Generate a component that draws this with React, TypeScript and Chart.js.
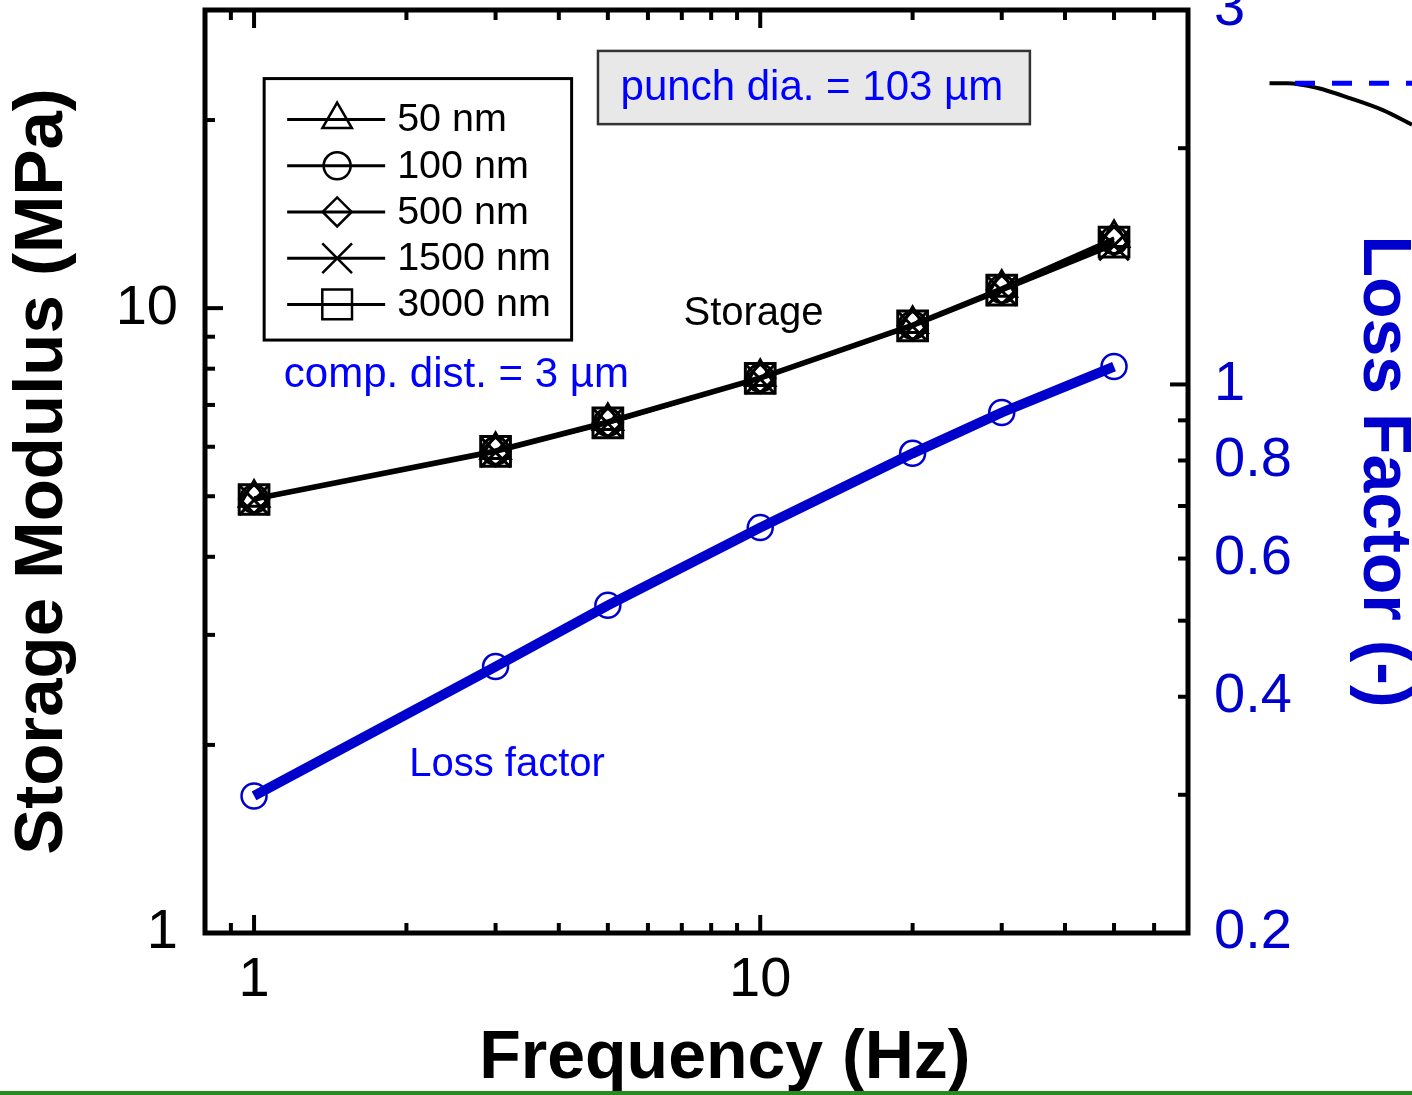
import React, { useEffect, useRef } from 'react';
import { Chart, registerables } from 'chart.js';
import { drawPoint } from 'chart.js/helpers';

Chart.register(...registerables);

const FONT = '"Liberation Sans", Arial, Helvetica, sans-serif';
const BLUE_AXIS = '#0000cc';
const BLUE_LINE = '#0000cc';
const BLUE_TEXT = '#0000ff';

// ---------- data ----------
const frequencyHz = [1, 3, 5, 10, 20, 30, 50];
const storage50nm = [4.97, 5.93, 6.6, 7.76, 9.43, 10.78, 12.95];
const storage100nm = [4.95, 5.91, 6.57, 7.73, 9.39, 10.72, 12.85];
const storage500nm = [4.95, 5.9, 6.56, 7.72, 9.38, 10.7, 12.8];
const storage1500nm = [4.93, 5.88, 6.54, 7.7, 9.35, 10.66, 12.6];
const storage3000nm = [4.94, 5.9, 6.55, 7.72, 9.37, 10.69, 12.75];
const lossFactor = [0.299, 0.437, 0.523, 0.657, 0.817, 0.921, 1.054];

const seriesLabels = ['50 nm', '100 nm', '500 nm', '1500 nm', '3000 nm'];
const seriesMarkers = ['triangle', 'circle', 'rectRot', 'crossRot', 'rect'];
const storageSeries = [storage50nm, storage100nm, storage500nm, storage1500nm, storage3000nm];

// tick labels and tick marks
const xTickLabels = [1, 10];
const yLeftTickLabels = [1, 10];
const yRightTickLabels = [0.2, 0.4, 0.6, 0.8, 1, 3];
const xMajorTicks = [1, 10];
const xMinorTicks = [0.9, 2, 3, 4, 5, 6, 7, 8, 9, 20, 30, 40, 50, 60];
const yLeftMajorTicks = [10];
const yLeftMinorTicks = [2, 3, 4, 5, 6, 7, 8, 9, 20];
const yRightMajorTicks = [1];
const yRightMinorTicks = [0.3, 0.4, 0.5, 0.6, 0.7, 0.8, 0.9, 2];

// fragment of the neighbouring panel (cut off at the right edge)
const fragmentX = [0.05, 0.17, 0.37, 0.59, 0.81, 1.0];
const fragmentCurve = [0.71, 0.71, 0.65, 0.52, 0.37, 0.19];
const fragmentRefX = [0.22, 1.0];
const fragmentRef = [0.71, 0.71];

// ---------- styles ----------
const markerRadii = [17, 13.5, 14.5, 21, 21];

const toPoints = (xs: number[], ys: number[]) => xs.map((x, i) => ({ x, y: ys[i] }));

const ticksPlugin = {
  id: 'frameTicks',
  afterDatasetsDraw(chart: any) {
    const { ctx, chartArea: a, scales } = chart;
    const MAJ = 18;
    const MIN = 10;
    ctx.save();
    ctx.strokeStyle = '#000';
    ctx.lineWidth = 4;
    ctx.lineCap = 'butt';
    const seg = (x1: number, y1: number, x2: number, y2: number) => {
      ctx.beginPath();
      ctx.moveTo(x1, y1);
      ctx.lineTo(x2, y2);
      ctx.stroke();
    };
    const xs = scales.x;
    const addX = (vals: number[], len: number) => {
      vals.forEach((v) => {
        const p = xs.getPixelForValue(v);
        seg(p, a.bottom, p, a.bottom - len);
        seg(p, a.top, p, a.top + len);
      });
    };
    addX(xMajorTicks, MAJ);
    addX(xMinorTicks, MIN);
    const yl = scales.y;
    yLeftMajorTicks.forEach((v) => { const p = yl.getPixelForValue(v); seg(a.left, p, a.left + MAJ, p); });
    yLeftMinorTicks.forEach((v) => { const p = yl.getPixelForValue(v); seg(a.left, p, a.left + MIN, p); });
    const yr = scales.y1;
    yRightMajorTicks.forEach((v) => { const p = yr.getPixelForValue(v); seg(a.right, p, a.right - MAJ, p); });
    yRightMinorTicks.forEach((v) => { const p = yr.getPixelForValue(v); seg(a.right, p, a.right - MIN, p); });
    ctx.lineWidth = 5;
    ctx.strokeRect(a.left, a.top, a.right - a.left, a.bottom - a.top);
    ctx.restore();
  },
};

const annotationPlugin = {
  id: 'annotations',
  afterDraw(chart: any) {
    const { ctx, scales } = chart;
    const X = (v: number) => scales.x.getPixelForValue(v);
    const Y = (v: number) => scales.y.getPixelForValue(v);
    ctx.save();
    ctx.textBaseline = 'middle';
    ctx.textAlign = 'center';

    // text labels
    ctx.fillStyle = '#000';
    ctx.font = `40px ${FONT}`;
    ctx.fillText('Storage', X(9.7), Y(9.8));
    ctx.fillStyle = BLUE_TEXT;
    ctx.font = `42px ${FONT}`;
    ctx.fillText('comp. dist. = 3 µm', X(2.51), Y(7.79));
    ctx.font = `40px ${FONT}`;
    ctx.fillText('Loss factor', X(3.16), Y(1.855));

    // punch diameter box
    const bx0 = X(4.78), bx1 = X(34.1), by0 = Y(25.8), by1 = Y(19.7);
    ctx.fillStyle = '#e8e8e8';
    ctx.fillRect(bx0, by0, bx1 - bx0, by1 - by0);
    ctx.strokeStyle = '#333';
    ctx.lineWidth = 2.5;
    ctx.strokeRect(bx0, by0, bx1 - bx0, by1 - by0);
    ctx.fillStyle = BLUE_TEXT;
    ctx.font = `42px ${FONT}`;
    ctx.fillText('punch dia. = 103 µm', (bx0 + bx1) / 2 - 2, (by0 + by1) / 2 + 1);

    // legend box
    const lx0 = X(1.047), lx1 = X(4.24), ly0 = Y(23.3), ly1 = Y(8.89);
    ctx.fillStyle = '#fff';
    ctx.fillRect(lx0, ly0, lx1 - lx0, ly1 - ly0);
    ctx.strokeStyle = '#000';
    ctx.lineWidth = 3;
    ctx.strokeRect(lx0, ly0, lx1 - lx0, ly1 - ly0);
    const items = chart.data.datasets.filter((d: any) => d.inLegend);
    ctx.textAlign = 'left';
    ctx.font = `39.5px ${FONT}`;
    items.forEach((d: any, i: number) => {
      const ry = ly0 + 41 + i * 46.2;
      ctx.strokeStyle = '#000';
      ctx.lineWidth = 3;
      ctx.beginPath();
      ctx.moveTo(lx0 + 23, ry);
      ctx.lineTo(lx0 + 121, ry);
      ctx.stroke();
      ctx.fillStyle = 'rgba(0,0,0,0)';
      ctx.lineWidth = 2.5;
      drawPoint(ctx, { pointStyle: d.pointStyle, radius: d.pointRadius, borderWidth: 2.5, rotation: 0 } as any, lx0 + 73, ry);
      ctx.fillStyle = '#000';
      ctx.fillText(d.label, lx0 + 133, ry + 1);
    });
    ctx.restore();
  },
};

function MainChart() {
  const ref = useRef<HTMLCanvasElement | null>(null);
  useEffect(() => {
    if (!ref.current) return;
    Chart.defaults.font.family = FONT;
    const datasets: any[] = storageSeries.map((arr, i) => ({
      label: seriesLabels[i],
      inLegend: true,
      data: toPoints(frequencyHz, arr),
      yAxisID: 'y',
      borderColor: '#000',
      backgroundColor: 'rgba(0,0,0,0)',
      borderWidth: 3.5,
      pointStyle: seriesMarkers[i],
      pointRadius: markerRadii[i],
      pointBorderWidth: 3,
      pointBorderColor: '#000',
      pointBackgroundColor: 'rgba(0,0,0,0)',
      tension: 0,
    }));
    datasets.push({
      label: 'Loss factor',
      inLegend: false,
      data: toPoints(frequencyHz, lossFactor),
      yAxisID: 'y1',
      borderColor: BLUE_LINE,
      backgroundColor: 'rgba(0,0,0,0)',
      borderWidth: 10,
      pointStyle: 'circle',
      pointRadius: 12.5,
      pointBorderWidth: 2.5,
      pointBorderColor: BLUE_LINE,
      pointBackgroundColor: 'rgba(0,0,0,0)',
      tension: 0,
    });

    const chart = new Chart(ref.current, {
      type: 'line',
      data: { datasets },
      options: {
        responsive: false,
        animation: false,
        events: [],
        layout: { autoPadding: false, padding: { top: 10, left: 0, right: 0, bottom: 0 } },
        plugins: { legend: { display: false }, tooltip: { enabled: false } },
        scales: {
          x: {
            type: 'logarithmic',
            position: 'bottom',
            min: 0.8,
            max: 70,
            afterBuildTicks: (s: any) => { s.ticks = xTickLabels.map((v) => ({ value: v })); },
            afterFit: (s: any) => { s.height = 162; s.paddingLeft = 0; s.paddingRight = 0; },
            ticks: {
              autoSkip: false, maxRotation: 0, minRotation: 0, padding: 14, color: '#000',
              font: { size: 56, family: FONT },
              callback: (v: any) => String(v),
            },
            grid: { display: false, drawTicks: false },
            border: { display: false },
            title: {
              display: true,
              text: '\u00a0\u00a0\u00a0Frequency (Hz)',
              color: '#000',
              font: { size: 68, weight: 'bold', family: FONT, lineHeight: 1 },
              padding: { top: 0, bottom: 2 },
            },
          },
          y: {
            type: 'logarithmic',
            position: 'left',
            min: 1,
            max: 30,
            afterBuildTicks: (s: any) => { s.ticks = yLeftTickLabels.map((v) => ({ value: v })); },
            afterFit: (s: any) => { s.width = 205; s.paddingTop = 0; s.paddingBottom = 0; },
            ticks: {
              autoSkip: false, padding: 27, color: '#000',
              font: { size: 56, family: FONT },
              callback: (v: any) => String(v),
            },
            grid: { display: false, drawTicks: false },
            border: { display: false },
            title: {
              display: true,
              text: 'Storage Modulus (MPa)',
              color: '#000',
              font: { size: 69, weight: 'bold', family: FONT, lineHeight: 1 },
              padding: { top: 8, bottom: 0 },
            },
          },
          y1: {
            type: 'logarithmic',
            position: 'right',
            min: 0.2,
            max: 3,
            afterBuildTicks: (s: any) => { s.ticks = yRightTickLabels.map((v) => ({ value: v })); },
            afterFit: (s: any) => { s.width = 224; s.paddingTop = 0; s.paddingBottom = 0; },
            ticks: {
              autoSkip: false, padding: 26, color: BLUE_AXIS,
              font: { size: 56, family: FONT },
              callback: (v: any) => String(v),
            },
            grid: { display: false, drawTicks: false },
            border: { display: false },
            title: {
              display: true,
              text: 'Loss Factor (-)',
              color: BLUE_AXIS,
              font: { size: 68, weight: 'bold', family: FONT, lineHeight: 0.85 },
              padding: { top: 0, bottom: 0 },
            },
          },
        },
      } as any,
      plugins: [ticksPlugin, annotationPlugin],
    });
    return () => chart.destroy();
  }, []);
  return <canvas ref={ref} width={1412} height={1095} style={{ display: 'block' }} />;
}

function FragmentChart() {
  const ref = useRef<HTMLCanvasElement | null>(null);
  useEffect(() => {
    if (!ref.current) return;
    const chart = new Chart(ref.current, {
      type: 'line',
      data: {
        datasets: [
          {
            data: toPoints(fragmentRefX, fragmentRef),
            borderColor: '#0000ff',
            borderWidth: 5,
            borderDash: [20, 17],
            pointRadius: 0,
          },
          {
            data: toPoints(fragmentX, fragmentCurve),
            borderColor: '#000',
            borderWidth: 4,
            pointRadius: 0,
            cubicInterpolationMode: 'monotone',
          },
        ],
      },
      options: {
        responsive: false,
        animation: false,
        events: [],
        layout: { autoPadding: false, padding: 0 },
        plugins: { legend: { display: false }, tooltip: { enabled: false } },
        scales: {
          x: { type: 'linear', min: 0, max: 1, display: false },
          y: { type: 'linear', min: 0, max: 1, display: false },
        },
      } as any,
    });
    return () => chart.destroy();
  }, []);
  return <canvas ref={ref} width={150} height={80} style={{ display: 'block' }} />;
}

export default function App() {
  useEffect(() => {
    document.body.style.margin = '0';
    document.body.style.overflow = 'hidden';
  }, []);
  return (
    <div style={{ position: 'absolute', left: 0, top: 0, width: 1412, height: 1095, background: '#fff', overflow: 'hidden' }}>
      <div style={{ position: 'absolute', left: 0, top: 0 }}>
        <MainChart />
      </div>
      <div style={{ position: 'absolute', left: 1262, top: 60 }}>
        <FragmentChart />
      </div>
      <div style={{ position: 'absolute', left: 0, top: 1091, width: 1412, height: 4, background: '#2a8a1e' }} />
    </div>
  );
}
